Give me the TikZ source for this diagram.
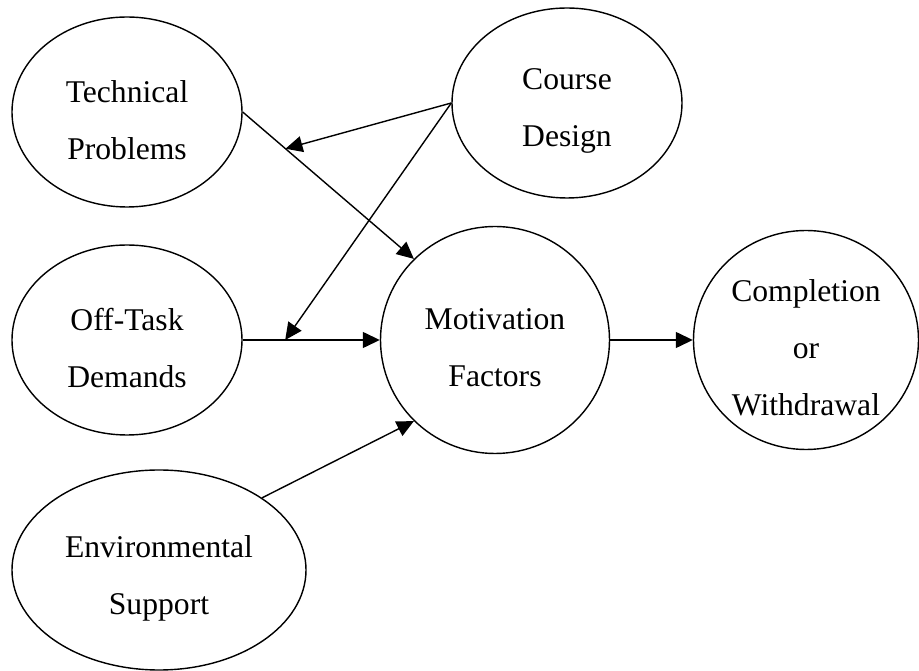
\documentclass[tikz,border=0pt]{standalone}
\usepackage{fontspec}
\setmainfont{Liberation Serif}
\usetikzlibrary{positioning, shapes.geometric, arrows.meta}

\begin{document}
\begin{tikzpicture}[factor/.style={shape=ellipse, draw=black, line width=0.8pt, inner sep=0pt, minimum width=4.6cm, minimum height=3.8cm},
                    caption/.style={align=center, font=\fontsize{18}{32.4}\selectfont, yshift=-1.6mm},
                    link/.style={-{Triangle[length=3.4mm,width=3.2mm]}, line width=0.8pt}]
            \useasboundingbox (0,0) rectangle (18.38,13.42);

            % Influencing factors
            \node[factor, label={[caption, name=techtext]center:Technical\\Problems}] (tech) at (2.54,11.18) {};
            \node[factor, label={[caption, name=coursetext]center:Course\\Design}] (course) at (11.34,11.36) {};
            \node[factor, label={[caption, name=offtext]center:Off-Task\\Demands}] (offtask) at (2.54,6.62) {};
            \node[factor, minimum width=5.88cm, minimum height=4cm, label={[caption, name=envtext]center:Environmental\\Support}] (env) at (3.18,2.02) {};

            % Motivation and outcome
            \node[factor, minimum width=4.58cm, minimum height=4.54cm, label={[caption, name=mottext]center:Motivation\\Factors}] (motivation) at (9.90,6.62) {};
            \node[factor, minimum width=4.5cm, minimum height=4.38cm, label={[caption, name=outtext]center:Completion\\or\\Withdrawal}] (outcome) at (16.12,6.62) {};

            % Paths
            \draw[link] (tech.east) -- coordinate[pos=0.25] (techmod) (motivation.135);
            \draw[link] (offtask.east) -- coordinate[pos=0.31] (offmod) (motivation.west);
            \draw[link] (env.35) -- (motivation.225);
            \draw[link] (motivation.east) -- (outcome.west);
            \draw[link] (course.west) -- (techmod);
            \draw[link] (course.west) -- (offmod);
        \end{tikzpicture}
\end{document}
